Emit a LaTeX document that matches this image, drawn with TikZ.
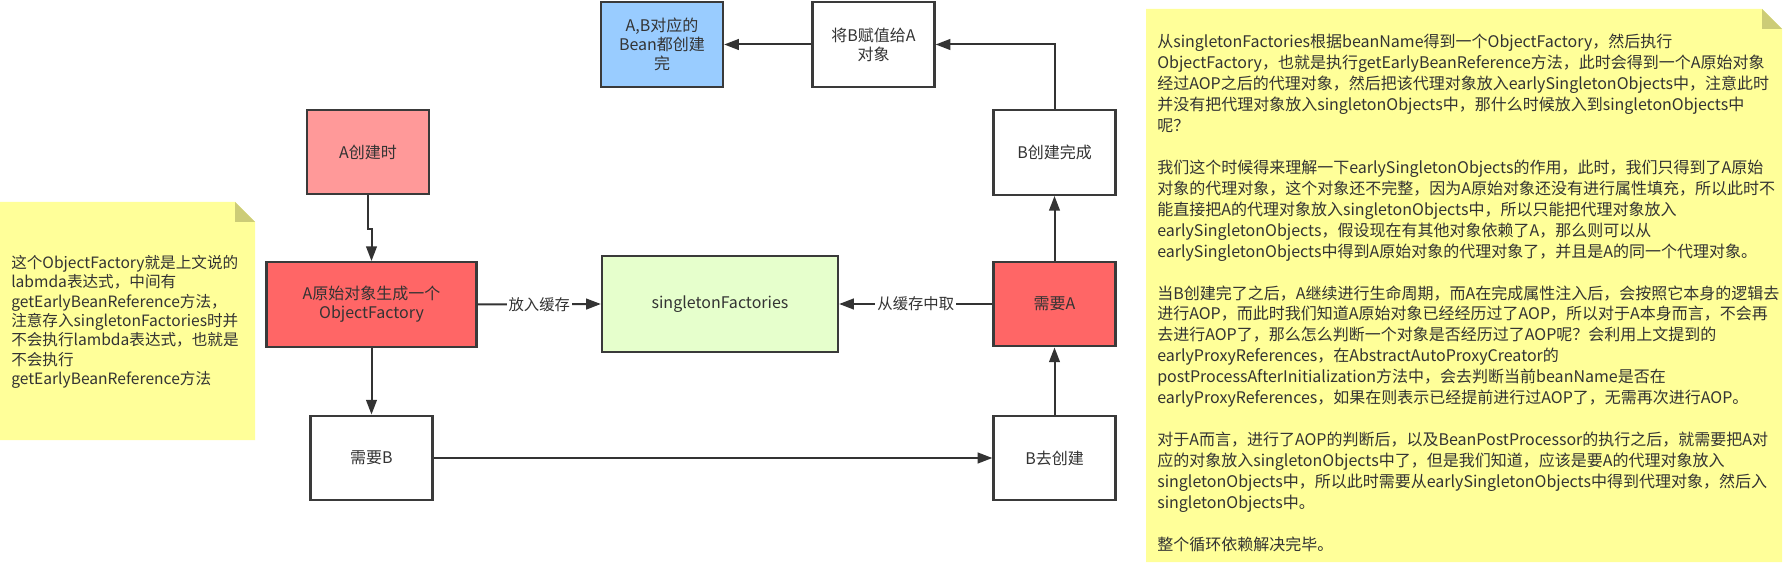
\documentclass[tikz,border=0pt]{standalone}
\usepackage{fontspec}
\setmainfont{Noto Sans CJK SC}
\usetikzlibrary{arrows.meta}
\definecolor{txt}{HTML}{333333}
\definecolor{edgec}{HTML}{333333}
\definecolor{bord}{HTML}{3A3A3A}
\definecolor{bluefill}{HTML}{99CCFF}
\definecolor{pinkfill}{HTML}{FF9999}
\definecolor{redfill}{HTML}{FF6666}
\definecolor{greenfill}{HTML}{E6FFCC}
\definecolor{notefill}{HTML}{FFFF99}
\definecolor{notefold}{HTML}{CCCC77}
\begin{document}
\begin{tikzpicture}[x=0.75pt,y=-0.75pt,
  box/.style={draw=bord, line width=1.7pt, inner sep=0pt, align=center, text=txt,
    minimum width=91.5pt, minimum height=63.5pt, font=\fontsize{12}{14.25}\selectfont},
  conn/.style={draw=edgec, line width=1.5pt, -{Triangle[length=11pt,width=8pt]}},
  lbl/.style={fill=white, inner sep=1.5pt, text=txt, font=\fontsize{11.5}{13}\selectfont},
  notetext/.style={inner sep=0pt, align=left, text=txt, anchor=north west}
]
\useasboundingbox (0,0) rectangle (1790,573);
% notes
\fill[notefill] (0,202) -- (235,202) -- (255,222) -- (255,440) -- (0,440) -- cycle;
\fill[notefold] (235,202) -- (255,222) -- (235,222) -- cycle;
\fill[notefill] (1146,9) -- (1762,9) -- (1782,29) -- (1782,562) -- (1146,562) -- cycle;
\fill[notefold] (1762,9) -- (1782,29) -- (1762,29) -- cycle;

\node[notetext, font=\fontsize{11.7}{14.5}\selectfont] (lnote) at (11,255) {%
这个ObjectFactory就是上文说的\\
labmda表达式，中间有\\
getEarlyBeanReference方法，\\
注意存入singletonFactories时并\\
不会执行lambda表达式，也就是\\
不会执行\\
getEarlyBeanReference方法};

\node[notetext, font=\fontsize{12}{15.7}\selectfont] (rnote) at (1157,34) {%
从singletonFactories根据beanName得到一个ObjectFactory，然后执行\\
ObjectFactory，也就是执行getEarlyBeanReference方法，此时会得到一个A原始对象\\
经过AOP之后的代理对象，然后把该代理对象放入earlySingletonObjects中，注意此时\\
并没有把代理对象放入singletonObjects中，那什么时候放入到singletonObjects中\\
呢？\\[15.7pt]
我们这个时候得来理解一下earlySingletonObjects的作用，此时，我们只得到了A原始\\
对象的代理对象，这个对象还不完整，因为A原始对象还没有进行属性填充，所以此时不\\
能直接把A的代理对象放入singletonObjects中，所以只能把代理对象放入\\
earlySingletonObjects，假设现在有其他对象依赖了A，那么则可以从\\
earlySingletonObjects中得到A原始对象的代理对象了，并且是A的同一个代理对象。\\[15.7pt]
当B创建完了之后，A继续进行生命周期，而A在完成属性注入后，会按照它本身的逻辑去\\
进行AOP，而此时我们知道A原始对象已经经历过了AOP，所以对于A本身而言，不会再\\
去进行AOP了，那么怎么判断一个对象是否经历过了AOP呢？会利用上文提到的\\
earlyProxyReferences，在AbstractAutoProxyCreator的\\
postProcessAfterInitialization方法中，会去判断当前beanName是否在\\
earlyProxyReferences，如果在则表示已经提前进行过AOP了，无需再次进行AOP。\\[15.7pt]
对于A而言，进行了AOP的判断后，以及BeanPostProcessor的执行之后，就需要把A对\\
应的对象放入singletonObjects中了，但是我们知道，应该是要A的代理对象放入\\
singletonObjects中，所以此时需要从earlySingletonObjects中得到代理对象，然后入\\
singletonObjects中。\\[15.7pt]
整个循环依赖解决完毕。};

% boxes
\node[box, fill=bluefill] (done) at (662,44.5) {A,B对应的\\Bean都创建\\完};
\node[box, fill=white] (assign) at (873.5,44.5) {将B赋值给A\\对象};
\node[box, fill=pinkfill] (acreate) at (368,152) {A创建时};
\node[box, fill=white] (bdone) at (1054.5,152.5) {B创建完成};
\node[box, fill=redfill, minimum width=157.5pt] (aorig) at (371.5,304.5) {A原始对象生成一个\\ObjectFactory};
\node[box, fill=greenfill, minimum width=177pt, minimum height=72pt] (sf) at (720,304) {singletonFactories};
\node[box, fill=redfill] (needa) at (1054.5,304) {需要A};
\node[box, fill=white] (needb) at (371.5,458) {需要B};
\node[box, fill=white] (bcreate) at (1054.5,458) {B去创建};

% connectors
\draw[conn] (acreate.south) -- ++(0,34) -| (aorig.north);
\draw[conn] (aorig.south) -- (needb.north);
\draw[conn] (needb.east) -- (bcreate.west);
\draw[conn] (bcreate.north) -- (needa.south);
\draw[conn] (needa.north) -- (bdone.south);
\draw[conn] (bdone.north) |- (assign.east);
\draw[conn] (assign.west) -- (done.east);
\draw[conn] (aorig.east) -- node[lbl] {放入缓存} (sf.west);
\draw[conn] (needa.west) -- node[lbl] {从缓存中取} (sf.east);
\end{tikzpicture}
\end{document}
